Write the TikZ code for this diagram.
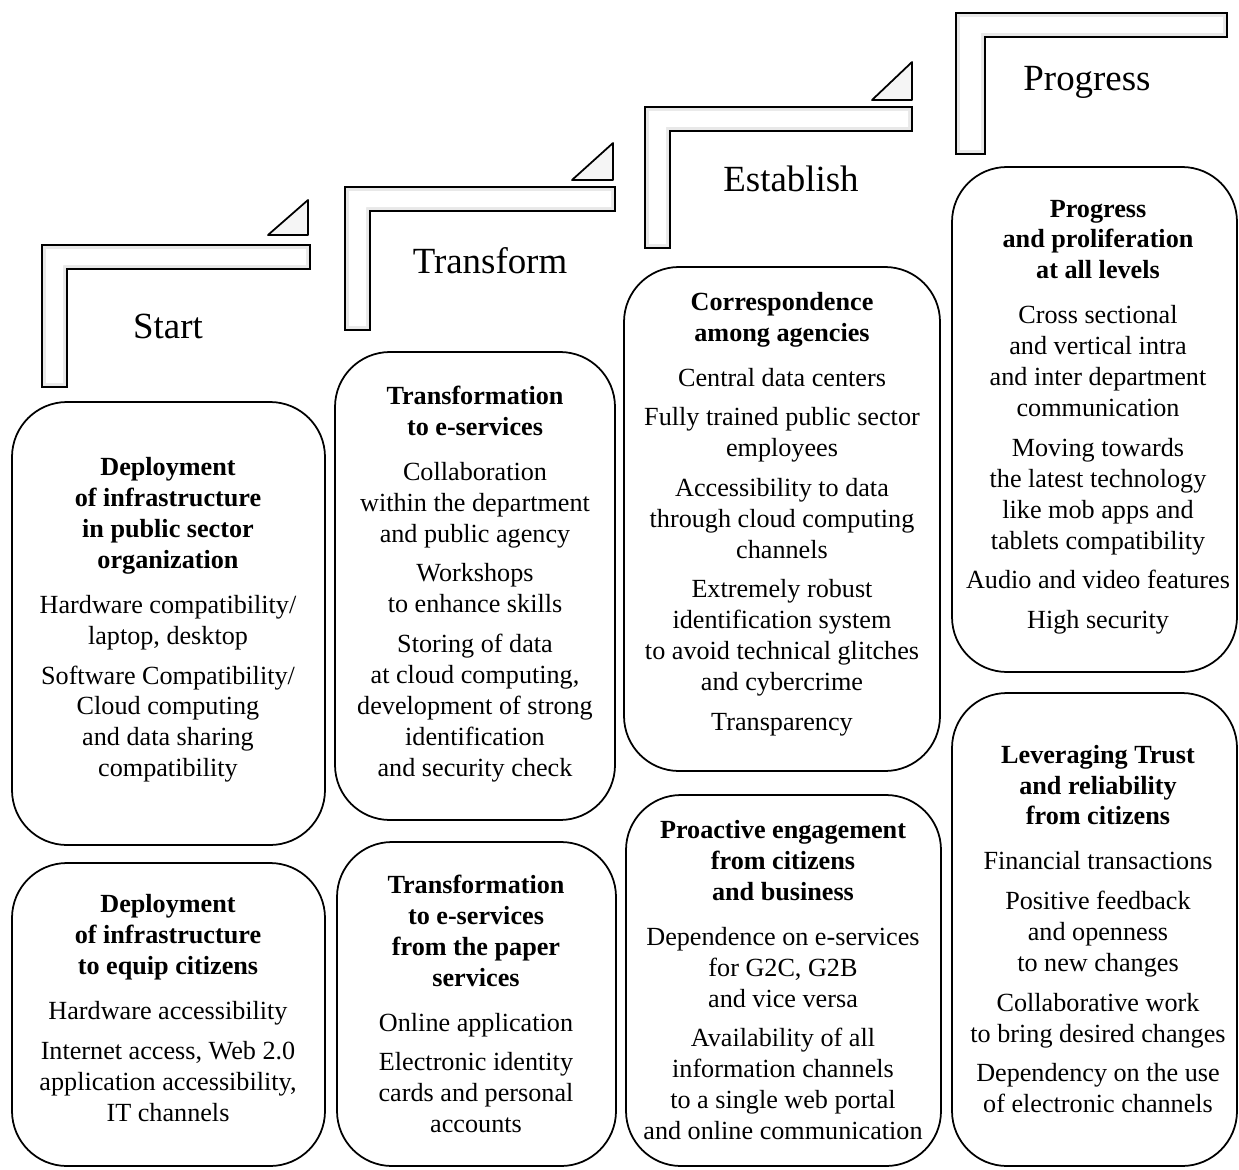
\documentclass[tikz,border=0pt]{standalone}
\usepackage{fontspec}
\setmainfont{Liberation Serif}
\begin{document}
\begin{tikzpicture}[x=0.02cm, y=-0.02cm,
        card/.style={draw, line width=1pt, rounded corners=1.1cm},
        txt/.style={align=center, inner sep=0pt, font=\fontsize{14.9pt}{17.6pt}\selectfont},
        stage/.style={anchor=base, inner sep=0pt, font=\fontsize{21pt}{25pt}\selectfont},
        bar/.style={draw, line width=1pt, fill=gray!18, line join=miter},
        barlit/.style={fill=white},
        wedge/.style={draw, line width=1pt, fill=gray!8, line join=round}]

        \useasboundingbox (0,0) rectangle (1239,1169);

        % steps
        \draw[bar] (42,245) -- (310,245) -- (310,269) -- (67,269) -- (67,387) -- (42,387) -- cycle;
        \fill[barlit] (46,249) -- (306,249) -- (306,265) -- (63,265) -- (63,383) -- (46,383) -- cycle;
        \draw[wedge] (268,235) -- (308,235) -- (308,200) -- cycle;

        \draw[bar] (345,187) -- (615,187) -- (615,211) -- (370,211) -- (370,330) -- (345,330) -- cycle;
        \fill[barlit] (349,191) -- (611,191) -- (611,207) -- (366,207) -- (366,326) -- (349,326) -- cycle;
        \draw[wedge] (572,180) -- (613,180) -- (613,143) -- cycle;

        \draw[bar] (645,107) -- (912,107) -- (912,131) -- (670,131) -- (670,248) -- (645,248) -- cycle;
        \fill[barlit] (649,111) -- (908,111) -- (908,127) -- (666,127) -- (666,244) -- (649,244) -- cycle;
        \draw[wedge] (872,100) -- (912,100) -- (912,62) -- cycle;

        \draw[bar] (956,13) -- (1227,13) -- (1227,37) -- (985,37) -- (985,154) -- (956,154) -- cycle;
        \fill[barlit] (960,17) -- (1223,17) -- (1223,33) -- (981,33) -- (981,150) -- (960,150) -- cycle;

        \node[stage] (start) at (168,338) {Start};
        \node[stage] (transform) at (490,273) {Transform};
        \node[stage] (establish) at (791,192) {Establish};
        \node[stage] (progress) at (1087,91) {Progress};

        % boxes
        \draw[card] (12,402) rectangle (325,845);
        \draw[card] (12,863) rectangle (325,1166);
        \draw[card] (335,352) rectangle (615,820);
        \draw[card] (337,842) rectangle (616,1166);
        \draw[card] (624,267) rectangle (940,771);
        \draw[card] (626,795) rectangle (941,1166);
        \draw[card] (952,167) rectangle (1237,672);
        \draw[card] (952,693) rectangle (1237,1166);

        \node[txt] (infra) at (168,620) {\textbf{Deployment}\\ \textbf{of infrastructure}\\ \textbf{in public sector}\\ \textbf{organization}\\[8pt]
            Hardware compatibility/\\ laptop, desktop\\[5pt]
            Software Compatibility/\\ Cloud computing\\ and data sharing\\ compatibility};
        \node[txt] (equip) at (168,1008) {\textbf{Deployment}\\ \textbf{of infrastructure}\\ \textbf{to equip citizens}\\[8pt]
            Hardware accessibility\\[5pt]
            Internet access, Web 2.0\\ application accessibility,\\ IT channels};
        \node[txt] (eserv) at (475,584) {\textbf{Transformation}\\ \textbf{to e-services}\\[8pt]
            Collaboration\\ within the department\\ and public agency\\[5pt]
            Workshops\\ to enhance skills\\[5pt]
            Storing of data\\ at cloud computing,\\ development of strong\\ identification\\ and security check};
        \node[txt] (paper) at (476,1004) {\textbf{Transformation}\\ \textbf{to e-services}\\ \textbf{from the paper}\\ \textbf{services}\\[8pt]
            Online application\\[5pt]
            Electronic identity\\ cards and personal\\ accounts};
        \node[txt] (agency) at (782,514) {\textbf{Correspondence}\\ \textbf{among agencies}\\[8pt]
            Central data centers\\[5pt]
            Fully trained public sector\\ employees\\[5pt]
            Accessibility to data\\ through cloud computing\\ channels\\[5pt]
            Extremely robust\\ identification system\\ to avoid technical glitches\\ and cybercrime\\[5pt]
            Transparency};
        \node[txt] (engage) at (783,980) {\textbf{Proactive engagement}\\ \textbf{from citizens}\\ \textbf{and business}\\[8pt]
            Dependence on e-services\\ for G2C, G2B\\ and vice versa\\[5pt]
            Availability of all\\ information channels\\ to a single web portal\\ and online communication};
        \node[txt] (prolif) at (1098,417) {\textbf{Progress}\\ \textbf{and proliferation}\\ \textbf{at all levels}\\[8pt]
            Cross sectional\\ and vertical intra\\ and inter department\\ communication\\[5pt]
            Moving towards\\ the latest technology\\ like mob apps and\\ tablets compatibility\\[5pt]
            Audio and video features\\[5pt]
            High security};
        \node[txt] (trust) at (1098,929) {\textbf{Leveraging Trust}\\ \textbf{and reliability}\\ \textbf{from citizens}\\[8pt]
            Financial transactions\\[5pt]
            Positive feedback\\ and openness\\ to new changes\\[5pt]
            Collaborative work\\ to bring desired changes\\[5pt]
            Dependency on the use\\ of electronic channels};

    \end{tikzpicture}
\end{document}
